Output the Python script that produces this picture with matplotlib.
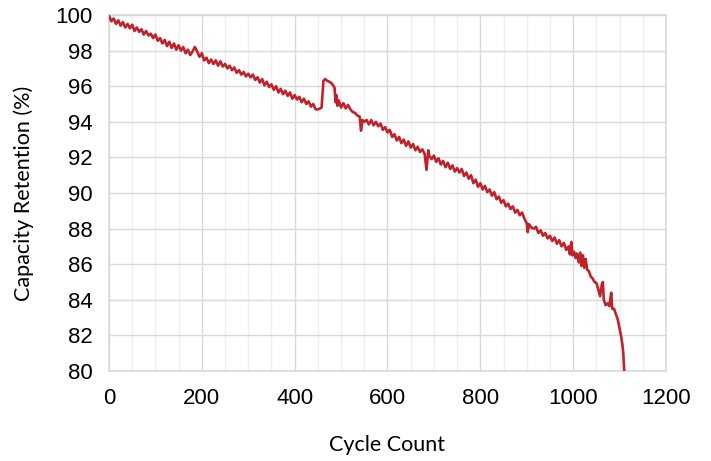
import numpy as np
import matplotlib.pyplot as plt
from matplotlib.ticker import MultipleLocator

# cycle count / capacity retention (%)
cycles = [0, 5, 10, 15, 20, 25, 30, 35, 40, 45, 50, 55, 60, 65, 70, 75, 80, 85, 90, 95,
          100, 105, 110, 115, 120, 125, 130, 135, 140, 145, 150, 155, 160, 165, 170, 175,
          180, 185, 190, 195, 200, 205, 210, 215, 220, 225, 230, 235, 240, 245, 250, 255,
          260, 265, 270, 275, 280, 285, 290, 295, 300, 305, 310, 315, 320, 325, 330, 335,
          340, 345, 350, 355, 360, 365, 370, 375, 380, 385, 390, 395, 400, 405, 410, 415,
          420, 425, 430, 435, 440, 445, 450, 455, 458, 462, 466, 470, 475, 480, 484, 486,
          488, 490, 492, 495, 500, 505, 510, 515, 520, 525, 530, 535, 540, 543, 546, 550,
          555, 560, 565, 570, 575, 580, 585, 590, 595, 600, 605, 610, 615, 620, 625, 630,
          635, 640, 645, 650, 655, 660, 665, 670, 675, 680, 684, 688, 690, 695, 700, 705,
          710, 715, 720, 725, 730, 735, 740, 745, 750, 755, 760, 765, 770, 775, 780, 785,
          790, 795, 800, 805, 810, 815, 820, 825, 830, 835, 840, 845, 850, 855, 860, 865,
          870, 875, 880, 885, 890, 895, 900, 902, 905, 910, 915, 920, 925, 930, 935, 940,
          945, 950, 955, 960, 965, 970, 975, 980, 985, 990, 993, 996, 998, 1002, 1005, 1008,
          1012, 1015, 1018, 1021, 1024, 1027, 1030, 1034, 1038, 1042, 1046, 1050, 1054, 1058,
          1062, 1064, 1066, 1070, 1074, 1078, 1082, 1084, 1088, 1092, 1096, 1100, 1103, 1106,
          1108, 1110]
retention = [99.95, 99.65, 99.8, 99.5, 99.7, 99.4, 99.6, 99.3, 99.5, 99.25, 99.45, 99.1,
             99.3, 99.05, 99.2, 98.9, 99.1, 98.85, 98.95, 98.7, 98.9, 98.55, 98.7, 98.4,
             98.6, 98.25, 98.5, 98.15, 98.4, 98.05, 98.3, 98.0, 98.2, 97.85, 98.05, 97.75,
             97.95, 98.2, 97.95, 97.65, 97.85, 97.45, 97.6, 97.3, 97.5, 97.25, 97.45, 97.15,
             97.4, 97.1, 97.25, 97.0, 97.15, 96.9, 97.05, 96.75, 96.9, 96.65, 96.8, 96.55,
             96.7, 96.5, 96.65, 96.35, 96.5, 96.2, 96.4, 96.05, 96.25, 95.95, 96.1, 95.8,
             96.0, 95.65, 95.85, 95.55, 95.75, 95.45, 95.65, 95.3, 95.5, 95.25, 95.4, 95.1,
             95.3, 95.0, 95.15, 94.85, 95.0, 94.7, 94.7, 94.75, 94.8, 96.3, 96.4, 96.3,
             96.25, 96.15, 96.0, 95.9, 95.1, 95.5, 94.9, 95.2, 94.8, 95.05, 94.75, 94.95,
             94.7, 94.55, 94.5, 94.35, 94.3, 93.5, 94.1, 94.0, 94.1, 93.85, 94.1, 93.8,
             94.0, 93.75, 93.9, 93.55, 93.7, 93.4, 93.55, 93.15, 93.3, 92.95, 93.15, 92.8,
             93.0, 92.65, 92.9, 92.55, 92.75, 92.4, 92.6, 92.3, 92.45, 92.2, 91.3, 92.4,
             92.1, 91.9, 92.1, 91.75, 91.95, 91.6, 91.8, 91.45, 91.7, 91.35, 91.55, 91.2,
             91.4, 91.15, 91.35, 90.95, 91.15, 90.8, 91.0, 90.55, 90.75, 90.35, 90.55, 90.2,
             90.4, 90.05, 90.2, 89.85, 90.05, 89.65, 89.8, 89.45, 89.6, 89.25, 89.4, 89.1,
             89.25, 88.9, 89.05, 88.75, 88.9, 88.55, 88.3, 87.8, 88.25, 88.05, 88.0, 88.1,
             87.75, 87.9, 87.6, 87.75, 87.45, 87.6, 87.3, 87.5, 87.15, 87.35, 87.0, 87.2,
             86.8, 87.0, 86.55, 87.25, 86.5, 86.7, 86.35, 86.6, 86.1, 86.65, 85.9, 86.5,
             85.8, 86.3, 85.7, 85.6, 85.3, 85.2, 85.0, 84.95, 84.6, 84.2, 84.9, 85.0, 84.0,
             83.7, 83.8, 83.65, 84.4, 83.5, 83.5, 83.2, 82.9, 82.4, 82.0, 81.5, 81.0, 80.0]

xticks = [0, 200, 400, 600, 800, 1000, 1200]
yticks = [80, 82, 84, 86, 88, 90, 92, 94, 96, 98, 100]

fig = plt.figure(figsize=(7.11, 4.61), dpi=100)
ax = fig.add_axes([0.1533, 0.1952, 0.7834, 0.7723])

ax.plot(cycles, retention, color='#c0222b', lw=1.9, zorder=3)

ax.set_xlim(0, 1200)
ax.set_ylim(80, 100)
ax.set_xticks(xticks)
ax.set_yticks(yticks)
ax.xaxis.set_minor_locator(MultipleLocator(50))
ax.grid(True, which='major', color='#d9d9d9', lw=1.0)
ax.grid(True, which='minor', axis='x', color='#efefef', lw=1.0)
ax.set_axisbelow(True)
for s in ax.spines.values():
    s.set_color('#d9d9d9')
    s.set_linewidth(1.2)

ax.tick_params(which='both', length=0, labelsize=16)
ax.tick_params(axis='x', pad=12)
ax.tick_params(axis='y', pad=12)
for lab in ax.get_xticklabels() + ax.get_yticklabels():
    lab.set_family('Liberation Sans')

ax.set_xlabel('Cycle Count', fontsize=15.5, family='Lato')
ax.set_ylabel('Capacity Retention (%)', fontsize=15.5, family='Lato')
ax.xaxis.set_label_coords(0.5, (461 - 445 - 195*0 - 90) / 356)
ax.yaxis.set_label_coords((24 - 109) / 557, 0.5)
ax.xaxis.label.set_va('center')
ax.yaxis.label.set_va('center')

fig.savefig('out.png', dpi=100)
